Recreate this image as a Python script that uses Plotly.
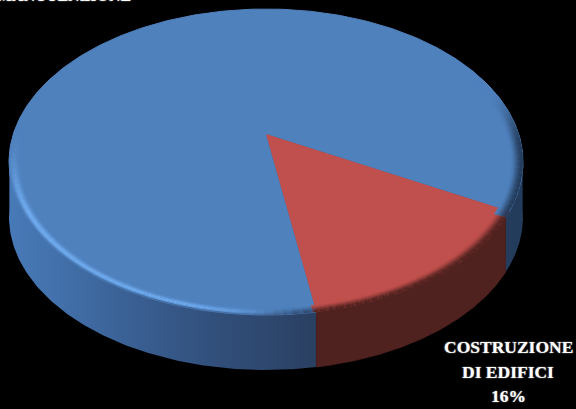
import numpy as np
import plotly.graph_objects as go

# Chart content
LABELS = ["MANUTENZIONE", "COSTRUZIONE", "DI EDIFICI", "16%"]
VALUES = [84, 16]

# Disc geometry on a 576x409 canvas
CX, CY, RX, RY = 266.0, 162.0, 257.0, 153.0
APEX = (266.0, 134.0)
DEPTH = 55.0
TILT = 0.055
START_DEG = -21.7
CORNER_TRIM_DEG = 2.5  # the rounded corner pulls the wall seam in from the face edge

BLUE = np.array([79, 129, 189], float)
RED = np.array([192, 80, 77], float)
HILITE = np.array([112, 172, 240], float)
RED_WALL = np.array([80, 34, 31], float)
WALL_X = [9, 60, 130, 210, 316, 523]
WALL_R = [72, 66, 58, 50, 42, 36]
WALL_G = [122, 112, 96, 80, 64, 60]
WALL_B = [184, 170, 148, 124, 98, 92]


def rim(theta, r=1.0):
    """Project a point of the unit disc rim onto the tilted ellipse."""
    s = TILT / np.sqrt(1 - TILT ** 2)
    c = 1 / np.sqrt(1 - TILT ** 2)
    u, v = np.cos(theta), np.sin(theta)
    d = v * s + c
    return CX + r * RX * u / d, CY - r * RY * (v * c + s) / d


def css(rgb):
    return "rgb({:.0f},{:.0f},{:.0f})".format(*np.clip(rgb, 0, 255))


def smooth(a, b, x):
    t = np.clip((x - a) / (b - a), 0, 1)
    return t * t * (3 - 2 * t)


def wall_colour(x, red_side):
    if red_side:
        return RED_WALL
    return np.array([np.interp(x, WALL_X, WALL_R),
                     np.interp(x, WALL_X, WALL_G),
                     np.interp(x, WALL_X, WALL_B)])


def poly(fig, xs, ys, colour, outline=0.0):
    fig.add_trace(go.Scatter(x=xs, y=ys, mode="lines", fill="toself",
                             fillcolor=colour, hoverinfo="skip", showlegend=False,
                             line=dict(color=colour, width=outline)))


def wall(fig, a, b, gradient=None, colour=None):
    th = np.linspace(a, b, 160)
    x, y = rim(th)
    xs = np.r_[x, x[::-1], x[0]]
    ys = np.r_[y, y[::-1] + DEPTH, y[0]]
    if gradient:
        fig.add_trace(go.Scatter(x=xs, y=ys, mode="lines", fill="toself",
                                 fillgradient=gradient, hoverinfo="skip",
                                 showlegend=False, line=dict(width=0)))
    else:
        poly(fig, xs, ys, colour, outline=0.7)


fig = go.Figure()

# Slice angles follow from the values, running clockwise from the start angle
red_sweep = np.radians(360 * VALUES[1] / sum(VALUES))
red_a = np.radians(START_DEG)
red_b = red_a - red_sweep
blue_a = red_b
blue_b = red_a - 2 * np.pi
seam_a = red_a - np.radians(CORNER_TRIM_DEG)


def is_red(theta):
    return (theta - red_b) % (2 * np.pi) <= (seam_a - red_b)


# Side wall: only the front half is visible, shaded left to right
scale = [[(px - WALL_X[0]) / (WALL_X[-1] - WALL_X[0]),
          css((WALL_R[i], WALL_G[i], WALL_B[i]))] for i, px in enumerate(WALL_X)]
grad = dict(type="horizontal", colorscale=scale, start=WALL_X[0], stop=WALL_X[-1])
wall(fig, -np.pi, red_b, gradient=grad)
wall(fig, seam_a, 0.0, gradient=grad)
wall(fig, red_b, seam_a, colour=css(RED_WALL))

# Top face: one wedge per value, the smaller laid over the larger
th = np.linspace(blue_a, blue_b, 400)
x, y = rim(th)
poly(fig, np.r_[APEX[0], x, APEX[0]], np.r_[APEX[1], y, APEX[1]], css(BLUE), outline=1.0)
th = np.linspace(red_a, red_b, 100)
x, y = rim(th)
poly(fig, np.r_[APEX[0], x, APEX[0]], np.r_[APEX[1], y, APEX[1]], css(RED))

# Rounded bevel along the rim: highlight at lower left, shade towards the right
rings = np.linspace(0.952, 1.0, 9)
step = np.radians(2.0)
angles = np.arange(np.radians(-190), np.radians(28), step)
for ang0 in angles:
    ang1 = ang0 + step
    mid = (ang0 + ang1) / 2
    deg = np.degrees(mid) % 360
    red_here = is_red(mid)
    base = RED if red_here else BLUE
    hi = smooth(172, 205, deg) * (1 - smooth(250, 283, deg))
    sd = deg if deg > 180 else deg + 360
    shade = smooth(262, 285, sd) * (1 - smooth(362, 386, sd))
    xm, _ = rim(mid)
    side = wall_colour(xm, red_here)
    for r0, r1 in zip(rings[:-1], rings[1:]):
        f = ((r0 + r1) / 2 - rings[0]) / (rings[-1] - rings[0])
        col = base.copy()
        col = col + (HILITE - col) * hi * np.exp(-((f - 0.62) / 0.3) ** 2)
        col = col + (side - col) * shade * smooth(0.0, 0.95, f)
        col = col + (side - col) * hi * smooth(0.8, 1.0, f) * 0.8
        # Each cell laps a little over its neighbours so no seams show
        e = 0.006 if not (abs(mid - seam_a) < step or abs(mid - red_b) < step) else 0.0
        xa, ya = rim(ang0 - e, r0 - 0.001)
        xb, yb = rim(ang1 + e, r0 - 0.001)
        xc, yc = rim(ang1 + e, r1)
        xd, yd = rim(ang0 - e, r1)
        poly(fig, [xa, xb, xc, xd, xa], [ya, yb, yc, yd, ya], css(col))

label_font = dict(family="Liberation Serif", size=17.5, color="white",
                  shadow="0 0 1.5px rgba(255,255,255,0.75)")
# Blue slice label sits mostly above the top edge of the canvas
fig.add_annotation(x=64, y=6.5, xref="x", yref="y", text="<b>" + LABELS[0] + "</b>",
                   showarrow=False, xanchor="center", yanchor="bottom",
                   font=dict(label_font, size=16))
for text, ypos in zip(LABELS[1:], [347, 372, 396]):
    fig.add_annotation(x=508, y=ypos, xref="x", yref="y",
                       text="<b>" + text + "</b>",
                       showarrow=False, xanchor="center", yanchor="middle",
                       align="center", font=label_font)

fig.update_layout(
    width=576, height=409, margin=dict(l=0, r=0, t=0, b=0),
    paper_bgcolor="black", plot_bgcolor="black", showlegend=False,
    xaxis=dict(visible=False, range=[0, 576], fixedrange=True),
    yaxis=dict(visible=False, range=[409, 0], fixedrange=True),
)
fig.write_html("out.html", config=dict(displayModeBar=False))
